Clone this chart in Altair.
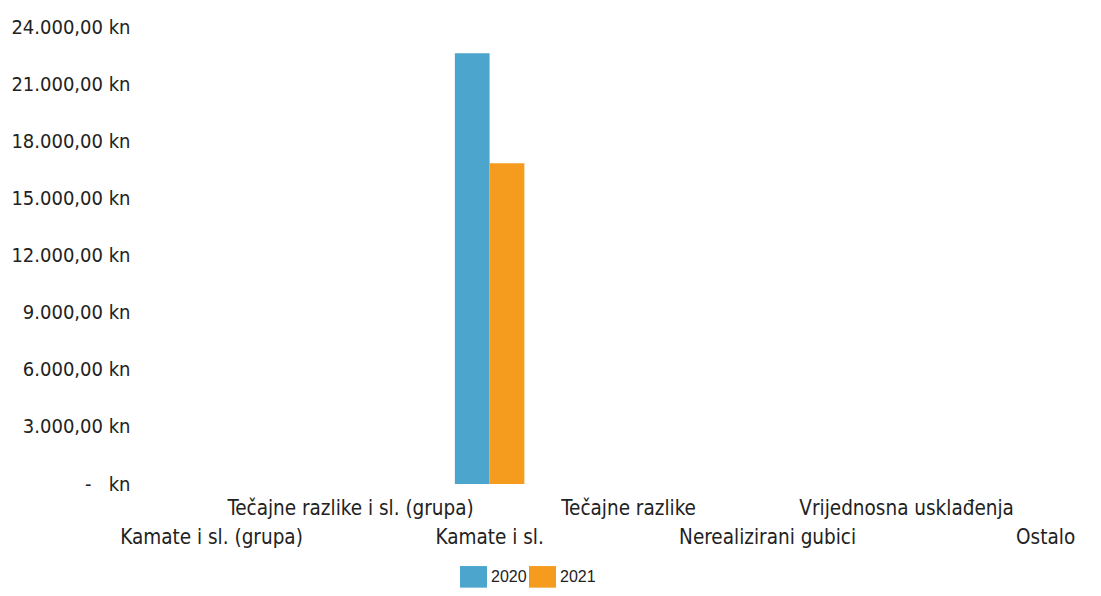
import altair as alt
import pandas as pd

categories = [
    "Kamate i sl. (grupa)",
    "Tečajne razlike i sl. (grupa)",
    "Kamate i sl.",
    "Tečajne razlike",
    "Nerealizirani gubici",
    "Vrijednosna usklađenja",
    "Ostalo",
]
values_2020 = [0, 0, 22620, 0, 0, 0, 0]
values_2021 = [0, 0, 16850, 0, 0, 0, 0]
years = ["2020", "2021"]
colors = ["#4ba5cd", "#f59b1e"]
y_ticks = [0, 3000, 6000, 9000, 12000, 15000, 18000, 21000, 24000]
upper_row = ["Tečajne razlike i sl. (grupa)", "Tečajne razlike", "Vrijednosna usklađenja"]

rows = []
for c, a, b in zip(categories, values_2020, values_2021):
    rows.append({"kategorija": c, "godina": years[0], "iznos": a})
    rows.append({"kategorija": c, "godina": years[1], "iznos": b})
df = pd.DataFrame(rows)

upper_js = "[" + ",".join("'" + u + "'" for u in upper_row) + "]"
x_label_expr = f"indexof({upper_js}, datum.value) >= 0 ? datum.value : ['', datum.value]"
y_label_expr = (
    "datum.value == 0 ? '-\u00a0\u00a0\u00a0kn' : "
    "replace(replace(replace(format(datum.value, ',.2f'), ',', '#'), '.', ','), '#', '.') + ' kn'"
)

chart = alt.Chart(df).mark_bar().encode(
    x=alt.X(
        "kategorija:N",
        sort=categories,
        scale=alt.Scale(paddingInner=0.5, paddingOuter=0.167, align=0.75),
        axis=alt.Axis(
            title=None,
            labelAngle=0,
            labelExpr=x_label_expr,
            labelBaseline="top",
            labelLineHeight=29,
            labelPadding=14,
            labelFont="DejaVu Sans Condensed",
            labelFontSize=20.5,
            labelColor="#222222",
            labelLimit=0,
            labelOverlap=False,
            ticks=False,
            domain=False,
            grid=False,
        ),
    ),
    xOffset=alt.XOffset("godina:N", sort=years),
    y=alt.Y(
        "iznos:Q",
        scale=alt.Scale(domain=[0, 24000], nice=False),
        axis=alt.Axis(
            title=None,
            values=y_ticks,
            labelExpr=y_label_expr,
            labelFont="DejaVu Sans Condensed",
            labelFontSize=20,
            labelColor="#222222",
            labelPadding=12,
            ticks=False,
            domain=False,
            grid=False,
        ),
    ),
    color=alt.Color(
        "godina:N",
        sort=years,
        scale=alt.Scale(domain=years, range=colors),
        legend=alt.Legend(
            title=None,
            orient="none",
            legendX=318,
            legendY=536,
            direction="horizontal",
            symbolType="M-1,-0.8H1V0.8H-1Z",
            symbolSize=729,
            symbolStrokeWidth=0,
            symbolOpacity=1,
            labelFont="Liberation Sans",
            labelFontSize=16,
            labelColor="#222222",
            labelOffset=4,
            columnPadding=2,
        ),
    ),
).properties(
    width=950,
    height=457,
    background="white",
    autosize=alt.AutoSizeParams(type="none"),
    padding={"left": 134, "top": 19, "right": 1, "bottom": 104},
).configure_view(
    stroke=None
)

chart.save("out.html", embed_options={"renderer": "svg", "actions": False})
